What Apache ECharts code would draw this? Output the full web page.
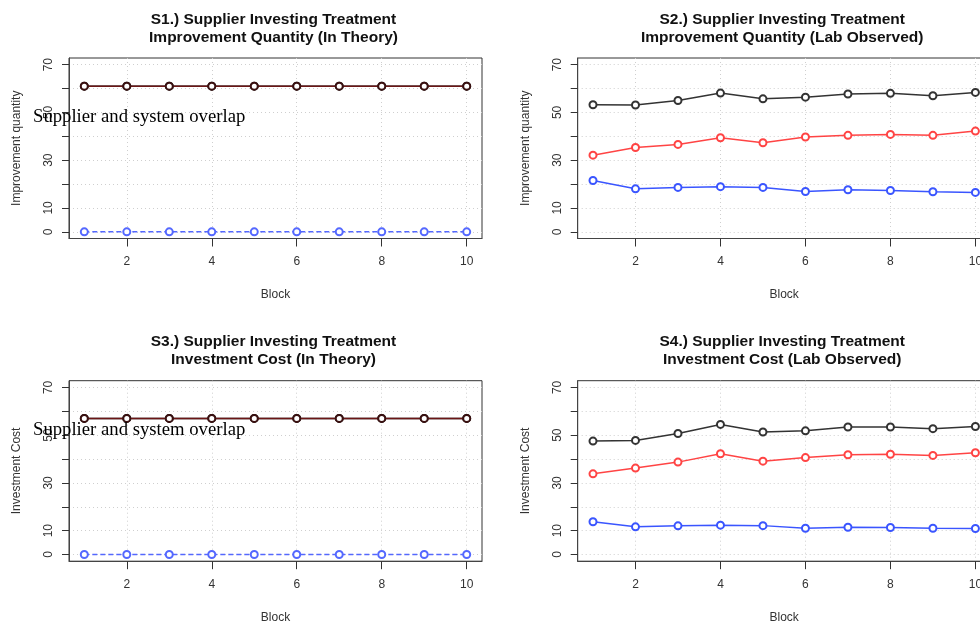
<!DOCTYPE html>
<html>
<head>
<meta charset="utf-8">
<script src="https://cdn.jsdelivr.net/npm/echarts@6/dist/echarts.min.js"></script>
<style>
html,body{margin:0;padding:0;background:#fff;overflow:hidden;}
#chart{width:995px;height:623px;}
</style>
</head>
<body>
<div id="chart"></div>
<script>
// ---- data ----
var blocks = [1, 2, 3, 4, 5, 6, 7, 8, 9, 10];
var xTickValues = [2, 4, 6, 8, 10];
var yTickValues = [0, 10, 20, 30, 40, 50, 60, 70];
var yLabelValues = [0, 10, 30, 50, 70];

// S1 theory improvement quantity
var s1Supplier = [61, 61, 61, 61, 61, 61, 61, 61, 61, 61];
var s1System   = [61, 61, 61, 61, 61, 61, 61, 61, 61, 61];
var s1Buyer    = [0, 0, 0, 0, 0, 0, 0, 0, 0, 0];

// S2 lab observed improvement quantity
var s2Black = [53.2, 53.1, 55.0, 58.1, 55.7, 56.4, 57.7, 58.0, 57.0, 58.4];
var s2Red   = [32.1, 35.3, 36.6, 39.4, 37.3, 39.7, 40.4, 40.8, 40.4, 42.2];
var s2Blue  = [21.5, 18.0, 18.6, 18.9, 18.6, 16.9, 17.6, 17.3, 16.8, 16.5];

// S3 theory investment cost
var s3Supplier = [57, 57, 57, 57, 57, 57, 57, 57, 57, 57];
var s3System   = [57, 57, 57, 57, 57, 57, 57, 57, 57, 57];
var s3Buyer    = [0, 0, 0, 0, 0, 0, 0, 0, 0, 0];

// S4 lab observed investment cost
var s4Black = [47.5, 47.8, 50.7, 54.5, 51.3, 51.8, 53.4, 53.4, 52.7, 53.6];
var s4Red   = [33.8, 36.2, 38.7, 42.2, 39.1, 40.6, 41.8, 42.0, 41.5, 42.6];
var s4Blue  = [13.7, 11.6, 12.0, 12.3, 12.1, 11.0, 11.4, 11.3, 11.0, 10.9];

var titles = [
  'S1.) Supplier Investing Treatment\nImprovement Quantity (In Theory)',
  'S2.) Supplier Investing Treatment\nImprovement Quantity (Lab Observed)',
  'S3.) Supplier Investing Treatment\nInvestment Cost (In Theory)',
  'S4.) Supplier Investing Treatment\nInvestment Cost (Lab Observed)'
];
var yNames = ['Improvement quantity', 'Improvement quantity', 'Investment Cost', 'Investment Cost'];
var xName = 'Block';
var overlapNote = 'Supplier and system overlap';

// ---- layout ----
var grids = [
  {left: 69, top: 58, width: 413, height: 180.5},
  {left: 577.7, top: 58, width: 413, height: 180.5},
  {left: 69, top: 380.7, width: 413, height: 180.5},
  {left: 577.7, top: 380.7, width: 413, height: 180.5}
];
var sans = 'Liberation Sans, Arial, Helvetica, sans-serif';

function pairs(arr) { return blocks.map(function (b, i) { return [b, arr[i]]; }); }

var option = {
  backgroundColor: '#fff',
  animation: false,
  title: [],
  grid: [],
  xAxis: [],
  yAxis: [],
  series: [],
  graphic: []
};

grids.forEach(function (g, i) {
  option.grid.push({
    left: g.left, top: g.top, width: g.width, height: g.height,
    outerBoundsMode: 'none', containLabel: false,
    show: true, borderColor: '#333', borderWidth: 1, backgroundColor: 'transparent'
  });
  option.title.push({
    text: titles[i],
    left: g.left + g.width / 2 - 7,
    top: i < 2 ? 5 : 327,
    textAlign: 'center',
    textStyle: {fontFamily: sans, fontSize: 15.5, fontWeight: 'bold', color: '#111', lineHeight: 18.7}
  });
  option.xAxis.push({
    type: 'value', gridIndex: i, min: 0.64, max: 10.36,
    name: xName, nameLocation: 'middle', nameGap: 50,
    nameTextStyle: {fontFamily: sans, fontSize: 12, color: '#333'},
    axisLine: {show: true, onZero: false, lineStyle: {color: '#444', width: 1}},
    axisTick: {show: true, inside: false, length: 8, customValues: xTickValues, lineStyle: {color: '#333'}},
    axisLabel: {show: true, customValues: xTickValues, margin: 17, fontFamily: sans, fontSize: 12, color: '#333'},
    splitLine: {show: true, lineStyle: {color: '#cfcfcf', type: [1, 3], width: 1}}
  });
  option.yAxis.push({
    type: 'value', gridIndex: i, min: -2.8, max: 72.8,
    name: yNames[i], nameLocation: 'middle', nameGap: 46, nameRotate: 90,
    nameTextStyle: {fontFamily: sans, fontSize: 12, color: '#333'},
    axisLine: {show: true, onZero: false, lineStyle: {color: '#444', width: 1}},
    axisTick: {show: true, inside: false, length: 7, customValues: yTickValues, lineStyle: {color: '#333'}},
    axisLabel: {show: true, customValues: yLabelValues, rotate: 90, margin: 14, fontFamily: sans, fontSize: 12, color: '#333'},
    splitLine: {show: true, lineStyle: {color: '#cfcfcf', type: [1, 3], width: 1}}
  });
});

function lineSeries(idx, arr, color, opts) {
  opts = opts || {};
  return {
    type: 'line', xAxisIndex: idx, yAxisIndex: idx, data: pairs(arr),
    symbol: 'emptyCircle', symbolSize: opts.size || 7,
    lineStyle: {color: color, width: opts.width || 1.5, type: opts.dash || 'solid'},
    itemStyle: {color: opts.symbolColor || color, borderColor: opts.symbolColor || color, borderWidth: 1.5},
    z: opts.z || 2,
    emphasis: {disabled: true}
  };
}

// theory panels
[[0, s1Supplier, s1System, s1Buyer], [2, s3Supplier, s3System, s3Buyer]].forEach(function (p) {
  option.series.push(lineSeries(p[0], p[3], '#5468ff', {dash: [5, 3], width: 1.5}));
  option.series.push(lineSeries(p[0], p[1], '#111111', {z: 3}));
  option.series.push(lineSeries(p[0], p[2], '#6b1616', {symbolColor: '#3a1010', z: 4}));
});
// lab panels
[[1, s2Black, s2Red, s2Blue], [3, s4Black, s4Red, s4Blue]].forEach(function (p) {
  option.series.push(lineSeries(p[0], p[1], '#333333'));
  option.series.push(lineSeries(p[0], p[2], '#ff4444'));
  option.series.push(lineSeries(p[0], p[3], '#3a55ff'));
});

// overlap annotations
[116.7, 429.3].forEach(function (y) {
  option.graphic.push({
    type: 'text', left: 33, top: y - 9, z: 100,
    style: {text: overlapNote, font: '18.7px "Liberation Serif", "Times New Roman", serif', fill: '#000'}
  });
});

var chart = echarts.init(document.getElementById('chart'), null, {renderer: 'canvas'});
chart.setOption(option);
</script>
</body>
</html>
